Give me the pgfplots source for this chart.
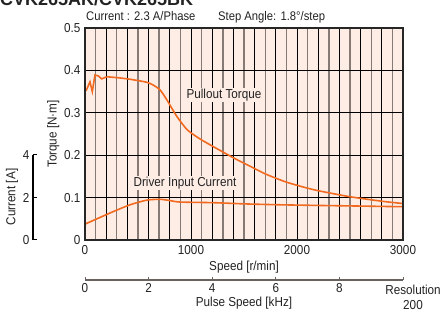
\documentclass[border=0pt]{standalone}
\usepackage{pgfplots}
\pgfplotsset{compat=1.18}
\usepackage{pgfplotstable}
\usepackage{fontspec}
\setmainfont{Liberation Sans}[FakeStretch=0.9]
\newfontfamily\titlefont{Liberation Sans}
\definecolor{bgc}{HTML}{FDEDE5}
\definecolor{curve}{HTML}{F26A1F}
\definecolor{gline}{HTML}{857A75}
\definecolor{txt}{HTML}{222222}

\pgfplotstableread{
rpm T
10 0.352
47 0.373
69 0.350
94 0.389
125 0.387
158 0.380
205 0.385
}\torqueA

\pgfplotstableread{
rpm T
205 0.385
300 0.383
400 0.380
500 0.376
582 0.372
640 0.366
708 0.354
771 0.331
865 0.292
960 0.261
1050 0.244
1148 0.229
1399 0.194
1557 0.174
1700 0.156
1871 0.139
2000 0.129
2186 0.117
2500 0.102
2814 0.091
3000 0.086
}\torqueB

\pgfplotstableread{
rpm I
5 0.76
267 1.34
425 1.66
582 1.88
708 1.92
802 1.86
896 1.79
1211 1.76
1525 1.70
1840 1.66
2200 1.63
2600 1.60
3000 1.57
}\current

\begin{document}
\begin{tikzpicture}[font=\fontsize{13}{14}\selectfont,text=txt]
\useasboundingbox (0pt,0pt) rectangle (440pt,312pt);
\node[anchor=base west,inner sep=0] at (0pt,306pt) {\titlefont\bfseries\fontsize{18}{18}\selectfont CVK265AK/CVK265BK};
\node[anchor=base west,inner sep=0] at (86pt,291pt) {\fontsize{12.5}{13}\selectfont Current : 2.3 A/Phase};
\node[anchor=base west,inner sep=0] at (218pt,291pt) {\fontsize{12.5}{13}\selectfont Step Angle: 1.8°/step};

\begin{axis}[
  at={(85pt,72pt)}, anchor=south west,
  scale only axis, width=318pt, height=212pt,
  xmin=0, xmax=3000, ymin=0, ymax=0.5,
  axis background/.style={fill=bgc},
  xtick={0,200,...,3000},
  xticklabels={0,,,,,1000,,,,,2000,,,,,3000},
  minor x tick num=1,
  ytick={0,0.1,...,0.5},
  yticklabels={0,0.1,0.2,0.3,0.4,0.5},
  major tick length=0pt, minor tick length=0pt,
  xmajorgrids, xminorgrids, ymajorgrids,
  major grid style={black, line width=0.9pt},
  minor grid style={gline, line width=1.4pt},
  axis line style={black!85, line width=1.5pt},
  tick label style={font=\fontsize{13}{14}\selectfont, text=txt},
  xticklabel style={yshift=-2pt},
  yticklabel style={xshift=-1pt},
  /pgf/number format/assume math mode=true,
  ylabel={Torque [N·m]},
  ylabel style={at={(axis description cs:-0.1,0.5)}, anchor=center, font=\fontsize{13}{14}\selectfont},
  clip=false,
]
\addplot[curve, line width=1.6pt] table[x=rpm,y=T] {\torqueA};
\addplot[curve, line width=1.6pt, smooth, tension=0.4] table[x=rpm,y=T] {\torqueB};
\addplot[curve, line width=1.6pt, smooth, tension=0.4] table[x=rpm,y expr=\thisrow{I}/20] {\current};
\node[fill=bgc, inner sep=1pt] at (axis cs:1311,0.342) {Pullout Torque};
\node[fill=bgc, inner sep=1pt] at (axis cs:943,0.134) {Driver Input Current};
\draw[black!85, line width=1.5pt] (rel axis cs:0,0) rectangle (rel axis cs:1,1);
\end{axis}

\node at (244pt,45pt) {Speed [r/min]};

% pulse speed axis
\begin{axis}[
  at={(85pt,32pt)}, anchor=south west,
  scale only axis, width=318pt, height=10pt,
  xmin=0, xmax=10, ymin=0, ymax=1,
  axis x line=bottom, axis y line=none,
  axis line style={-, gline!80!black, line width=1.3pt},
  xtick={0,2,4,6,8,10},
  xticklabels={0,2,4,6,8,},
  tick align=inside, major tick length=3pt,
  tick style={gline!80!black, line width=1pt},
  tick label style={font=\fontsize{13}{14}\selectfont, text=txt},
  /pgf/number format/assume math mode=true,
]
\end{axis}
\node at (244pt,9pt) {Pulse Speed [kHz]};
\node at (413pt,22pt) {Resolution};
\node at (413pt,7pt) {200};

% current axis
\begin{axis}[
  at={(33pt,72pt)}, anchor=south west,
  scale only axis, width=10pt, height=85pt,
  xmin=0, xmax=1, ymin=0, ymax=4,
  axis y line=left, axis x line=none,
  axis line style={-, black, line width=1pt},
  ytick={0,2,4},
  tick align=inside, major tick length=4pt,
  tick style={black, line width=1pt},
  tick label style={font=\fontsize{13}{14}\selectfont, text=txt},
  /pgf/number format/assume math mode=true,
]
\end{axis}
\node[rotate=90] at (12pt,115pt) {Current [A]};
\end{tikzpicture}
\end{document}
